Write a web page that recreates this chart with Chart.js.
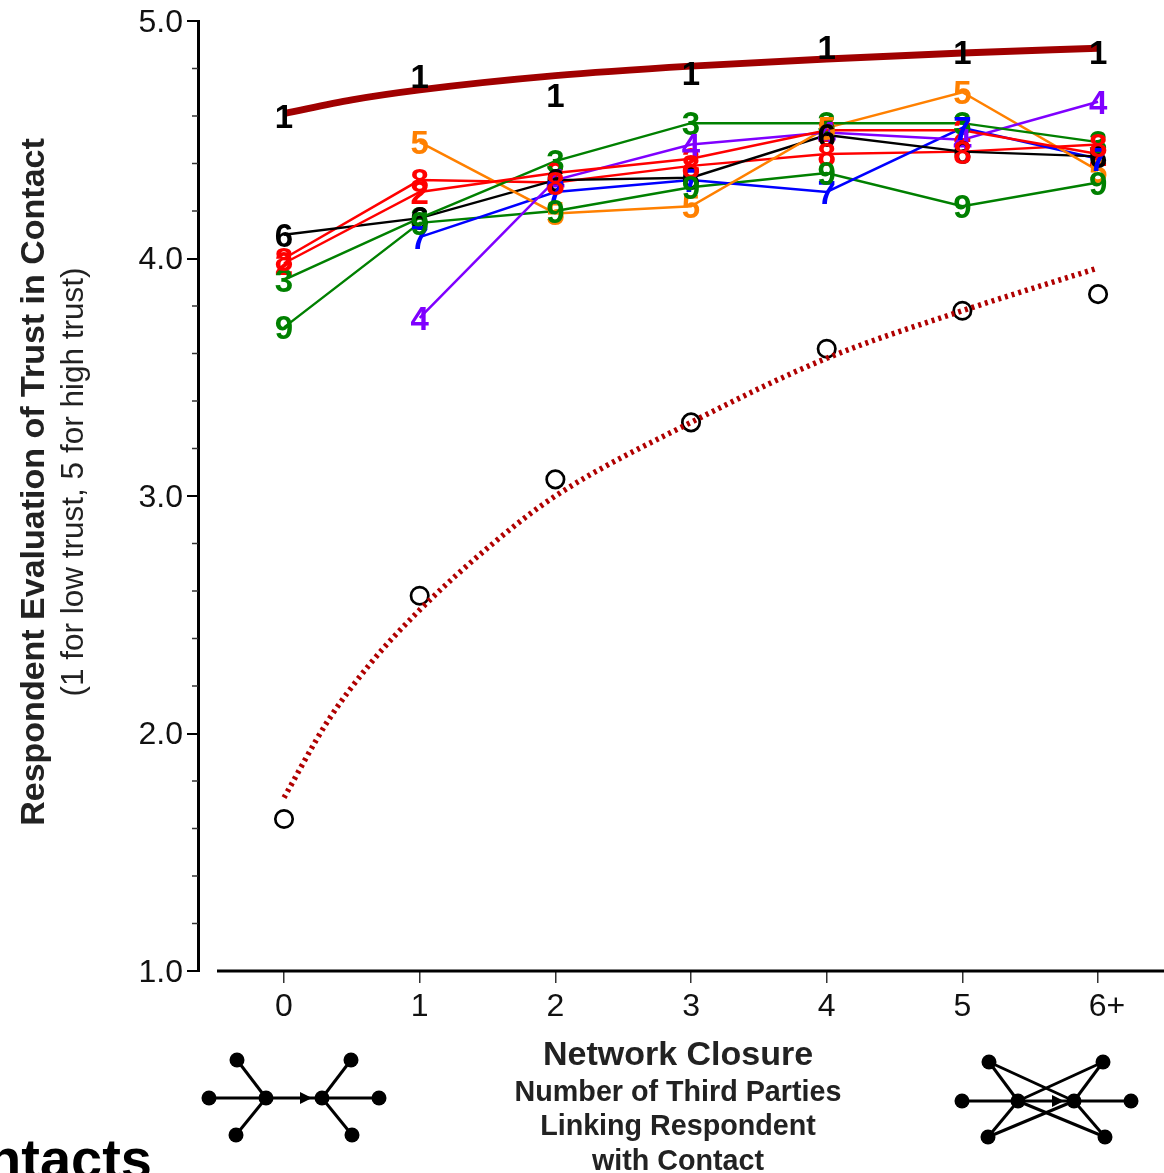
<!DOCTYPE html>
<html>
<head>
<meta charset="utf-8">
<script src="https://cdn.jsdelivr.net/npm/chart.js@4"></script>
<style>
  html, body { margin: 0; padding: 0; background: #fff; overflow: hidden; }
  #wrap { position: relative; width: 1164px; height: 1173px; }
</style>
</head>
<body>
<div id="wrap"><canvas id="chart" width="1164" height="1173"></canvas></div>
<script>
// closure categories on the x axis
const closure = [0, 1, 2, 3, 4, 5, 6];
const closureLabels = ['0', '1', '2', '3', '4', '5', '6+'];
const yMajor = [1, 2, 3, 4, 5];
const yMinor = [1.2, 1.4, 1.6, 1.8, 2.2, 2.4, 2.6, 2.8, 3.2, 3.4, 3.6, 3.8, 4.2, 4.4, 4.6, 4.8];

// trust by closure, one list per numbered population
const pop1 = [4.60, 4.77, 4.69, 4.78, 4.89, 4.87, 4.87];
const pop2 = [3.98, 4.28, 4.36, 4.42, 4.54, 4.54, 4.44];
const pop3 = [3.91, 4.17, 4.41, 4.57, 4.57, 4.57, 4.49];
const pop4 = [null, 3.75, 4.33, 4.48, 4.53, 4.50, 4.66];
const pop5 = [null, 4.49, 4.19, 4.22, 4.55, 4.70, 4.37];
const pop6 = [4.10, 4.17, 4.33, 4.34, 4.52, 4.45, 4.43];
const pop7 = [null, 4.09, 4.28, 4.33, 4.28, 4.55, 4.42];
const pop8 = [4.00, 4.33, 4.32, 4.39, 4.44, 4.45, 4.48];
const pop9 = [3.71, 4.15, 4.20, 4.30, 4.36, 4.22, 4.32];

// thick curve over the 1s, dotted curve through the circles
const upperX = [0, 0.5, 1, 2, 3, 4, 5, 6];
const upperCurve = [4.61, 4.668, 4.71, 4.77, 4.81, 4.84, 4.865, 4.885];
const lowerX = [0, 0.32, 0.63, 1, 1.54, 2, 3, 4, 5, 6];
const lowerCurve = [1.73, 2.05, 2.29, 2.52, 2.80, 3.00, 3.31, 3.58, 3.78, 3.96];
const circles = [1.64, 2.58, 3.07, 3.31, 3.62, 3.78, 3.85];

const RED = '#ff0000', GREEN = '#008000', ORANGE = '#ff8000', PURPLE = '#7f00ff', BLUE = '#0000ff';
const FONT = '"Liberation Sans", Arial, sans-serif';

function pts(values, xs = closure) {
  return xs.map((x, i) => ({ x, y: values[i] }));
}

function popLine(label, values, color, showLine = true) {
  return {
    label,
    data: pts(values),
    borderColor: color,
    backgroundColor: color,
    borderWidth: 2.5,
    pointRadius: 0,
    showLine,
    numbered: true
  };
}

const labelsPlugin = {
  id: 'numbers',
  afterDatasetsDraw(chart) {
    const ctx = chart.ctx;
    ctx.save();
    ctx.textAlign = 'center';
    ctx.textBaseline = 'middle';
    ctx.font = 'bold 33px ' + FONT;
    chart.data.datasets.forEach((ds, i) => {
      if (!ds.numbered) return;
      ctx.fillStyle = ds.borderColor;
      chart.getDatasetMeta(i).data.forEach((pt, j) => {
        if (ds.data[j].y == null) return;
        ctx.fillText(ds.label, pt.x, pt.y + 3);
      });
    });
    ctx.restore();
  }
};

const decorPlugin = {
  id: 'decor',
  afterDraw(chart) {
    const ctx = chart.ctx;
    const { y } = chart.scales;
    ctx.save();

    // x axis line stops short of the y axis
    ctx.strokeStyle = '#000';
    ctx.lineWidth = 3;
    ctx.beginPath();
    ctx.moveTo(217, y.getPixelForValue(1));
    ctx.lineTo(1164, y.getPixelForValue(1));
    ctx.stroke();

    // short ticks between the labelled ones
    ctx.strokeStyle = '#333';
    ctx.lineWidth = 1.5;
    yMinor.forEach(v => {
      const py = y.getPixelForValue(v);
      ctx.beginPath();
      ctx.moveTo(192, py);
      ctx.lineTo(198, py);
      ctx.stroke();
    });

    ctx.textAlign = 'center';
    ctx.textBaseline = 'middle';
    ctx.fillStyle = '#222';

    ctx.save();
    ctx.translate(35, 482);
    ctx.rotate(-Math.PI / 2);
    ctx.font = 'bold 34px ' + FONT;
    ctx.fillText('Respondent Evaluation of Trust in Contact', 0, 0);
    ctx.restore();

    ctx.save();
    ctx.translate(74, 482);
    ctx.rotate(-Math.PI / 2);
    ctx.font = '31.5px ' + FONT;
    ctx.fillText('(1 for low trust, 5 for high trust)', 0, 0);
    ctx.restore();

    ctx.font = 'bold 34px ' + FONT;
    ctx.fillText('Network Closure', 678, 1056);
    ctx.font = 'bold 28.7px ' + FONT;
    ctx.fillText('Number of Third Parties', 678, 1093);
    ctx.fillText('Linking Respondent', 678, 1127);
    ctx.fillText('with Contact', 678, 1162);

    ctx.fillStyle = '#000';
    ctx.textAlign = 'right';
    ctx.font = 'bold 56px ' + FONT;
    ctx.fillText('Contacts', 152, 1163);

    drawOpenNetwork(ctx);
    drawClosedNetwork(ctx);
    ctx.restore();
  }
};

function dot(ctx, x, y) {
  ctx.beginPath();
  ctx.arc(x, y, 7.5, 0, Math.PI * 2);
  ctx.fill();
}

function link(ctx, a, b, w) {
  ctx.lineWidth = w;
  ctx.beginPath();
  ctx.moveTo(a[0], a[1]);
  ctx.lineTo(b[0], b[1]);
  ctx.stroke();
}

function arrowHead(ctx, x, y) {
  ctx.beginPath();
  ctx.moveTo(x, y - 6);
  ctx.lineTo(x + 12, y);
  ctx.lineTo(x, y + 6);
  ctx.closePath();
  ctx.fill();
}

function drawOpenNetwork(ctx) {
  ctx.strokeStyle = '#000';
  ctx.fillStyle = '#000';
  const l = [266, 1098], r = [322, 1098];
  const outer = [[237, 1060], [209, 1098], [236, 1135], [351, 1060], [379, 1098], [352, 1135]];
  outer.forEach((p, i) => link(ctx, i < 3 ? l : r, p, 3));
  link(ctx, l, r, 3);
  arrowHead(ctx, 300, 1098);
  [l, r, ...outer].forEach(p => dot(ctx, p[0], p[1]));
}

function drawClosedNetwork(ctx) {
  ctx.strokeStyle = '#000';
  ctx.fillStyle = '#000';
  const l = [1018, 1101], r = [1074, 1101];
  const a = [989, 1062], b = [962, 1101], c = [988, 1137], d = [1103, 1062], e = [1131, 1101], f = [1105, 1137];
  [a, b, c].forEach(p => link(ctx, l, p, 3));
  [d, e, f].forEach(p => link(ctx, r, p, 3));
  [a, c].forEach(p => link(ctx, r, p, 3));
  [d, f].forEach(p => link(ctx, l, p, 3));
  link(ctx, l, r, 3);
  arrowHead(ctx, 1052, 1101);
  [l, r, a, b, c, d, e, f].forEach(p => dot(ctx, p[0], p[1]));
}

new Chart(document.getElementById('chart'), {
  type: 'scatter',
  data: {
    datasets: [
      {
        label: 'fit',
        data: pts(upperCurve, upperX),
        borderColor: '#a00000',
        borderWidth: 7,
        pointRadius: 0,
        showLine: true,
        cubicInterpolationMode: 'monotone'
      },
      {
        label: 'fit closure',
        data: pts(lowerCurve, lowerX),
        borderColor: '#b00000',
        borderWidth: 5.5,
        borderDash: [3, 4],
        pointRadius: 0,
        showLine: true,
        cubicInterpolationMode: 'monotone'
      },
      popLine('1', pop1, '#000000', false),
      popLine('2', pop2, RED),
      popLine('3', pop3, GREEN),
      popLine('4', pop4, PURPLE),
      popLine('5', pop5, ORANGE),
      popLine('6', pop6, '#000000'),
      popLine('7', pop7, BLUE),
      popLine('8', pop8, RED),
      popLine('9', pop9, GREEN),
      {
        label: 'mean',
        data: pts(circles),
        showLine: false,
        pointRadius: 8.7,
        pointBorderWidth: 2.7,
        pointBorderColor: '#000',
        pointBackgroundColor: '#fff'
      }
    ]
  },
  options: {
    responsive: false,
    animation: false,
    layout: { autoPadding: false, padding: { left: 0, right: 0, top: 21, bottom: 0 } },
    plugins: { legend: { display: false }, tooltip: { enabled: false } },
    scales: {
      x: {
        type: 'linear',
        bounds: 'data',
        min: -0.634,
        max: 6.486,
        afterBuildTicks(scale) { scale.ticks = closure.map(v => ({ value: v })); },
        afterFit(scale) {
          scale.height = 1173 - 971;
          scale.paddingLeft = 0;
          scale.paddingRight = 0;
        },
        border: { display: false },
        grid: { drawOnChartArea: false, drawTicks: true, tickLength: 12, color: '#333', lineWidth: 1.5 },
        ticks: {
          color: '#111',
          font: { size: 32, family: FONT },
          padding: 5,
          maxRotation: 0,
          // the 6+ sits a little right of its tick in the original
          callback: (v) => (v === 6 ? '  ' : '') + closureLabels[v]
        }
      },
      y: {
        min: 1,
        max: 5,
        afterBuildTicks(scale) { scale.ticks = yMajor.map(v => ({ value: v })); },
        afterFit(scale) {
          scale.width = 198;
          scale.paddingTop = 0;
          scale.paddingBottom = 0;
        },
        border: { color: '#000', width: 3 },
        grid: { drawOnChartArea: false, drawTicks: true, tickLength: 11, color: '#000', lineWidth: 2 },
        ticks: {
          color: '#111',
          font: { size: 32, family: FONT },
          padding: 4,
          labelOffset: 2,
          callback: (v) => v.toFixed(1)
        }
      }
    }
  },
  plugins: [labelsPlugin, decorPlugin]
});
</script>
</body>
</html>
